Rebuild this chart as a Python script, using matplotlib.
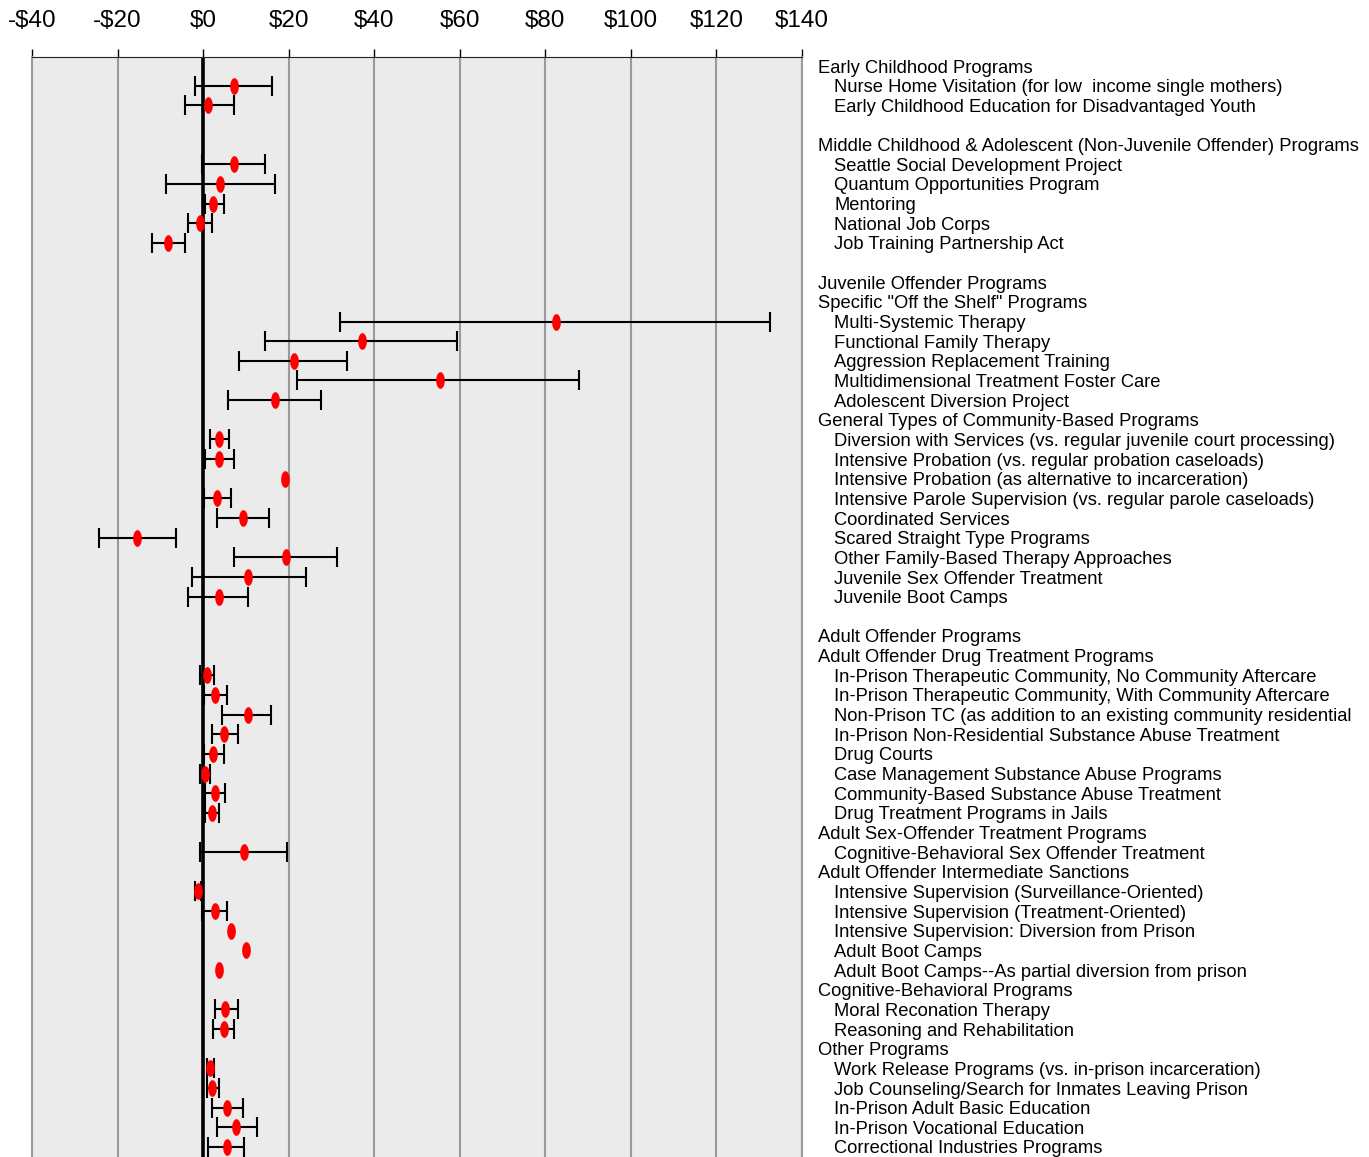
import numpy as np
import matplotlib
matplotlib.use("Agg")
import matplotlib.pyplot as plt
import matplotlib.transforms as mtransforms

plt.rcParams['font.family'] = ['Liberation Sans', 'DejaVu Sans']

# row labels, level 0 = heading, 1 = program, None = blank row
labels = [
    "Early Childhood Programs",
    "Nurse Home Visitation (for low  income single mothers)",
    "Early Childhood Education for Disadvantaged Youth",
    "",
    "Middle Childhood & Adolescent (Non-Juvenile Offender) Programs",
    "Seattle Social Development Project",
    "Quantum Opportunities Program",
    "Mentoring",
    "National Job Corps",
    "Job Training Partnership Act",
    "",
    "Juvenile Offender Programs",
    "Specific \"Off the Shelf\" Programs",
    "Multi-Systemic Therapy",
    "Functional Family Therapy",
    "Aggression Replacement Training",
    "Multidimensional Treatment Foster Care",
    "Adolescent Diversion Project",
    "General Types of Community-Based Programs",
    "Diversion with Services (vs. regular juvenile court processing)",
    "Intensive Probation (vs. regular probation caseloads)",
    "Intensive Probation (as alternative to incarceration)",
    "Intensive Parole Supervision (vs. regular parole caseloads)",
    "Coordinated Services",
    "Scared Straight Type Programs",
    "Other Family-Based Therapy Approaches",
    "Juvenile Sex Offender Treatment",
    "Juvenile Boot Camps",
    "",
    "Adult Offender Programs",
    "Adult Offender Drug Treatment Programs",
    "In-Prison Therapeutic Community, No Community Aftercare",
    "In-Prison Therapeutic Community, With Community Aftercare",
    "Non-Prison TC (as addition to an existing community residential",
    "In-Prison Non-Residential Substance Abuse Treatment",
    "Drug Courts",
    "Case Management Substance Abuse Programs",
    "Community-Based Substance Abuse Treatment",
    "Drug Treatment Programs in Jails",
    "Adult Sex-Offender Treatment Programs",
    "Cognitive-Behavioral Sex Offender Treatment",
    "Adult Offender Intermediate Sanctions",
    "Intensive Supervision (Surveillance-Oriented)",
    "Intensive Supervision (Treatment-Oriented)",
    "Intensive Supervision: Diversion from Prison",
    "Adult Boot Camps",
    "Adult Boot Camps--As partial diversion from prison",
    "Cognitive-Behavioral Programs",
    "Moral Reconation Therapy",
    "Reasoning and Rehabilitation",
    "Other Programs",
    "Work Release Programs (vs. in-prison incarceration)",
    "Job Counseling/Search for Inmates Leaving Prison",
    "In-Prison Adult Basic Education",
    "In-Prison Vocational Education",
    "Correctional Industries Programs",
]

levels = [0, 1, 1, None,
          0, 1, 1, 1, 1, 1, None,
          0, 0, 1, 1, 1, 1, 1,
          0, 1, 1, 1, 1, 1, 1, 1, 1, 1, None,
          0, 0, 1, 1, 1, 1, 1, 1, 1, 1,
          0, 1,
          0, 1, 1, 1, 1, 1,
          0, 1, 1,
          0, 1, 1, 1, 1, 1]

nan = np.nan
# net benefit per $ of cost (estimate, low, high); nan = heading / blank
estimate = [nan, 7.2, 1.2, nan,
            nan, 7.2, 4.0, 2.4, -0.8, -8.3, nan,
            nan, nan, 82.5, 37.1, 21.2, 55.4, 16.8,
            nan, 3.7, 3.7, 19.1, 3.3, 9.3, -15.5, 19.3, 10.5, 3.7, nan,
            nan, nan, 0.8, 2.8, 10.4, 4.8, 2.4, 0.5, 2.8, 2.1,
            nan, 9.6,
            nan, -1.2, 2.8, 6.5, 10.1, 3.7,
            nan, 5.2, 4.8,
            nan, 1.6, 2.1, 5.7, 7.6, 5.7]

low = [nan, -2.0, -4.3, nan,
       nan, -0.2, -8.7, 0.5, -3.5, -11.9, nan,
       nan, nan, 31.9, 14.4, 8.4, 21.9, 5.9,
       nan, 1.6, 0.5, 19.1, 0.3, 3.3, -24.3, 7.2, -2.7, -3.5, nan,
       nan, nan, -0.8, 0.3, 4.4, 2.0, 0.3, -0.8, 0.5, 0.5,
       nan, -0.8,
       nan, -2.0, -0.3, 6.5, 10.1, 3.7,
       nan, 2.7, 2.3,
       nan, 0.9, 0.9, 2.0, 3.2, 1.2]

high = [nan, 16.1, 7.2, nan,
        nan, 14.5, 16.8, 4.8, 2.1, -4.3, nan,
        nan, nan, 132.5, 59.4, 33.6, 87.8, 27.6,
        nan, 6.0, 7.2, 19.1, 6.5, 15.3, -6.3, 31.2, 24.1, 10.5, nan,
        nan, nan, 2.5, 5.6, 15.9, 8.1, 4.9, 1.6, 5.1, 3.7,
        nan, 19.6,
        nan, -0.4, 5.6, 6.5, 10.1, 3.7,
        nan, 8.2, 7.2,
        nan, 2.6, 3.8, 9.4, 12.5, 9.6]

ticks = [-40, -20, 0, 20, 40, 60, 80, 100, 120, 140]

est = np.array(estimate)
lo = np.array(low)
hi = np.array(high)
y = np.arange(len(labels))

W, H = 1369, 1157
fig = plt.figure(figsize=(W / 100, H / 100), dpi=100)
ax = fig.add_axes([32 / W, 0, 770 / W, 1100 / H])
ax.set_facecolor('#EBEBEB')

ax.set_xlim(-40, 140)
ax.set_ylim(len(labels) - 0.49, -0.46)

for t in ticks[1:]:
    ax.axvline(t, color='#9A9A9A', lw=1.5, zorder=1)
ax.axvline(0, color='black', lw=2.6, zorder=2)

ok = ~np.isnan(est)
# only rows that actually have a range get whiskers
rng = ok & (hi > lo)
ax.errorbar(est[rng], y[rng], xerr=[est[rng] - lo[rng], hi[rng] - est[rng]],
            fmt='none', ecolor='black', elinewidth=1.5, capsize=7,
            capthick=1.5, zorder=3)

# tall red ellipse marker
th = np.linspace(0, 2 * np.pi, 40)
ell = np.column_stack([0.52 * np.cos(th), np.sin(th)])
ax.plot(est[ok], y[ok], linestyle='none', marker=ell, markersize=12,
        color='#FF0000', markeredgewidth=0, zorder=4)

ax.xaxis.tick_top()
ax.set_xticks(ticks)
ax.set_xticklabels(['-$' + str(-t) if t < 0 else '$' + str(t) for t in ticks])
ax.tick_params(axis='x', direction='out', length=6, width=1, pad=12,
               labelsize=17.5, colors='black')
ax.set_yticks([])
ax.spines['top'].set_color('#222222')
ax.spines['left'].set_color('#9A9A9A')
ax.spines['left'].set_linewidth(1.5)
ax.spines['right'].set_color('#9A9A9A')
ax.spines['right'].set_linewidth(1.5)
ax.spines['bottom'].set_visible(False)

trans = mtransforms.blended_transform_factory(fig.transFigure, ax.transData)
trans = mtransforms.offset_copy(trans, fig=fig, y=-2, units='dots')
for i, (lab, lev) in enumerate(zip(labels, levels)):
    if lev is None:
        continue
    xpos = 818 / W if lev == 0 else 834 / W
    ax.text(xpos, i, lab, transform=trans, ha='left', va='center',
            fontsize=13.2, color='black', clip_on=False)

fig.savefig('out.png', dpi=100)
